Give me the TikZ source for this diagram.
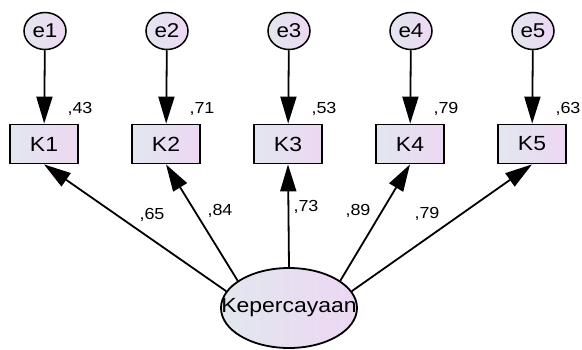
\documentclass[tikz,border=0pt]{standalone}
\usepackage{fontspec}
\setmainfont{Liberation Sans}[FakeStretch=1.12]
\usetikzlibrary{arrows.meta,shapes.geometric}
\definecolor{gl}{HTML}{E2E7EF}
\definecolor{gr}{HTML}{EDD7F3}
\begin{document}
\begin{tikzpicture}[x=1pt,y=-1pt,
 obs/.style={draw=black, line width=1.8pt, rectangle, minimum width=68pt, minimum height=39pt, inner sep=0pt, left color=gl, right color=gr, font=\fontsize{20.5}{20.5}\selectfont},
 err/.style={draw=black, line width=1.5pt, ellipse, minimum width=42pt, minimum height=37pt, inner sep=0pt, left color=gl, right color=gr, font=\fontsize{20}{20}\selectfont},
 latent/.style={draw=black, line width=1.8pt, ellipse, minimum width=136pt, minimum height=80pt, inner sep=0pt, left color=gl, right color=gr},
 lattext/.style={inner sep=0pt, font=\fontsize{20.5}{20.5}\selectfont},
 arr/.style={line width=1.8pt, -{Triangle[length=27pt,width=16pt]}},
 lbl/.style={font=\fontsize{16}{16}\selectfont, inner sep=0pt}
]
\useasboundingbox (0,0) rectangle (582,349);
\node[latent] (L) at (289,308) {};
\node[lattext] (Lt) at (L.center) {Kepercayaan};
\foreach \i/\x/\v in {1/44/43,2/166/71,3/288/53,4/410/79,5/532/63}{
  \node[err] (e\i) at (\x+1,31) {e\i};
  \node[obs] (K\i) at (\x,144) {K\i};
  \node[lbl] (r\i) at (\x+36,109) {,\v};
  \draw[arr] (e\i) -- (K\i);
}
\draw[arr] (L.165) -- (K1.south);
\draw[arr] (L.152) -- (K2.south);
\draw[arr] (L.north) -- (K3.south);
\draw[arr] (L.28) -- (K4.south);
\draw[arr] (L.15) -- (K5.south);
\node[lbl] (w1) at (152,215) {,65};
\node[lbl] (w2) at (220,211) {,84};
\node[lbl] (w3) at (306,207) {,73};
\node[lbl] (w4) at (358,211) {,89};
\node[lbl] (w5) at (427,214) {,79};
\end{tikzpicture}
\end{document}
